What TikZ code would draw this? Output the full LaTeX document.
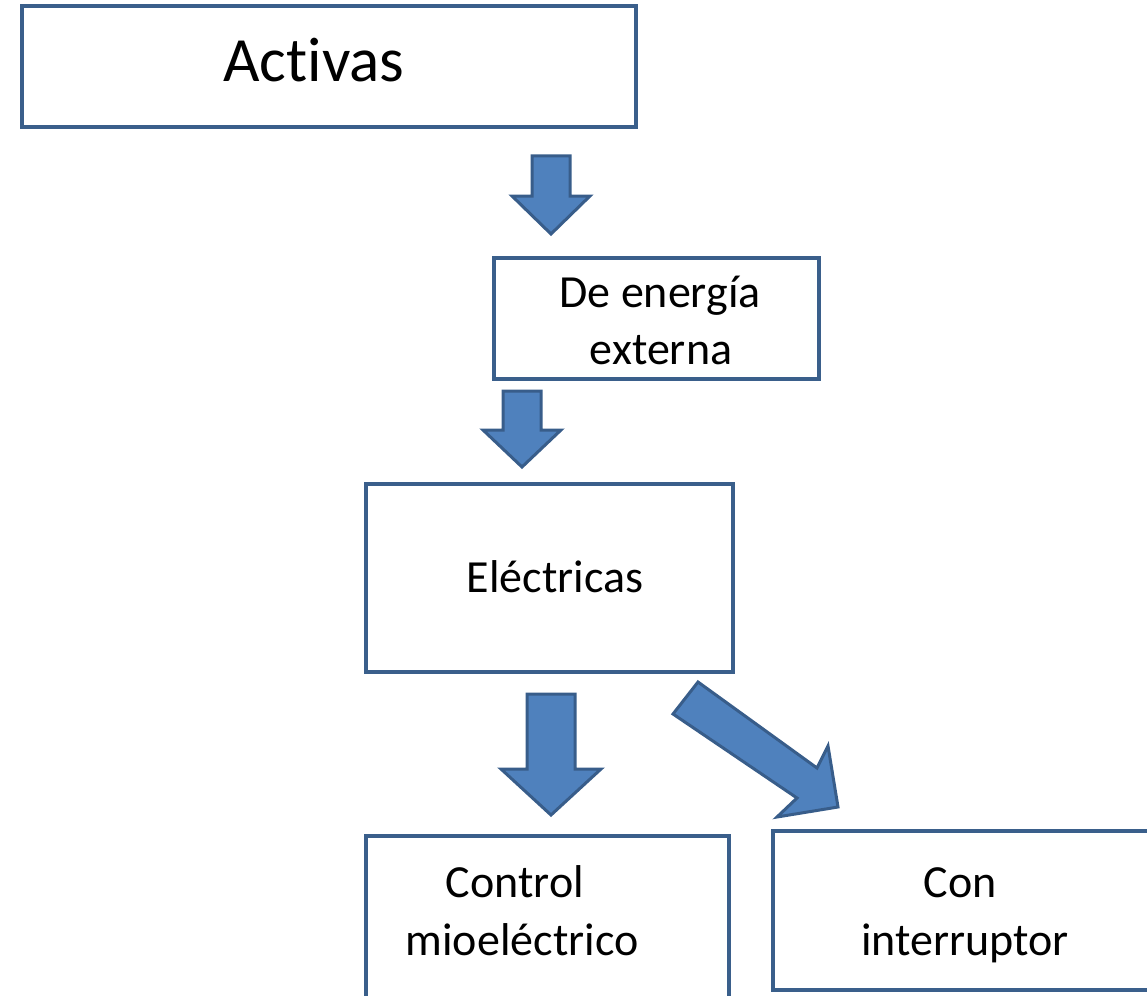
\documentclass[tikz,border=0pt]{standalone}
\usepackage{fontspec}
\setmainfont[Ligatures=NoCommon]{Carlito}
\definecolor{boxline}{HTML}{3A5F8B}
\definecolor{arrowfill}{HTML}{4F81BD}
\definecolor{arrowline}{HTML}{385D8A}
\begin{document}
\begin{tikzpicture}[x=1pt,y=-1pt,
  box/.style={draw=boxline,line width=4pt,fill=white,rectangle,inner sep=0pt,anchor=north west},
  txt/.style={anchor=base,inner sep=0pt,font=\fontsize{46}{57}\selectfont},
  bigtxt/.style={anchor=base,inner sep=0pt,font=\fontsize{63}{76}\selectfont},
  blockarrow/.style={fill=arrowfill,draw=arrowline,line width=3pt,line join=miter}]
\useasboundingbox (0,0) rectangle (1147,995);
\begin{scope}
\clip (0,0) rectangle (1147,995);

% boxes
\node[box,minimum width=614pt,minimum height=121pt] (activas) at (20,4) {};
\node[box,minimum width=325pt,minimum height=121pt] (externa) at (492,256) {};
\node[box,minimum width=367pt,minimum height=188pt] (electricas) at (364,482) {};
\node[box,minimum width=363pt,minimum height=200pt] (control) at (364,834) {};
\node[box,minimum width=420pt,minimum height=159pt] (interruptor) at (771,829) {};

% labels
\node[bigtxt] (tActivas) at (314,82) {Activas};
\node[txt] (tEnergia) at (660,307) {De energía};
\node[txt] (tExterna) at (661,364) {externa};
\node[txt] (tElectricas) at (555,592) {Eléctricas};
\node[txt] (tControl) at (515,897) {Control};
\node[txt] (tMio) at (522,955) {mioeléctrico};
\node[txt] (tCon) at (960,897) {Con};
\node[txt] (tInterruptor) at (965,955) {interruptor};

% block arrows
\draw[blockarrow] (532,156) -- (570,156) -- (570,196) -- (590,196) -- (551,234)
  -- (512,196) -- (532,196) -- cycle;
\draw[blockarrow] (503,391) -- (541,391) -- (541,430) -- (561,430) -- (522,467)
  -- (483,430) -- (503,430) -- cycle;
\draw[blockarrow] (527,694) -- (575,694) -- (575,769) -- (601,769) -- (551,815)
  -- (501,769) -- (527,769) -- cycle;
\draw[blockarrow] (698,682) -- (817,768) -- (828,746) -- (838,807) -- (777,817)
  -- (797,798) -- (673,714) -- cycle;
\end{scope}
\end{tikzpicture}
\end{document}
